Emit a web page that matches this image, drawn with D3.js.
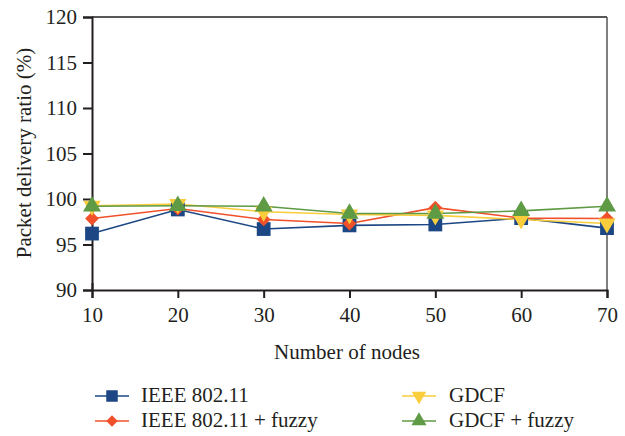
<!DOCTYPE html>
<html>
<head>
<meta charset="utf-8">
<script src="https://cdn.jsdelivr.net/npm/d3@7"></script>
<style>
  body { margin: 0; background: #fff; }
  text { font-family: "Liberation Serif", "DejaVu Serif", serif; fill: #231f20; }
</style>
</head>
<body>
<script>
// data
var nodes = [10, 20, 30, 40, 50, 60, 70];
var ieee = [96.2, 98.85, 96.7, 97.1, 97.2, 97.9, 96.8];
var ieeeFuzzy = [97.85, 98.95, 97.75, 97.3, 99.05, 97.9, 97.85];
var gdcf = [99.25, 99.45, 98.6, 98.3, 98.2, 97.75, 97.3];
var gdcfFuzzy = [99.2, 99.25, 99.2, 98.4, 98.4, 98.7, 99.2];
var yTicks = [90, 95, 100, 105, 110, 115, 120];

var series = [
  {name: "IEEE 802.11", values: ieee, color: "#1c4784", shape: d3.symbolSquare, size: 190, rot: 0},
  {name: "IEEE 802.11 + fuzzy", values: ieeeFuzzy, color: "#f0502a", shape: d3.symbolSquare, size: 95, rot: 45},
  {name: "GDCF", values: gdcf, color: "#f9cd3b", shape: d3.symbolTriangle, size: 130, rot: 180},
  {name: "GDCF + fuzzy", values: gdcfFuzzy, color: "#5f9a45", shape: d3.symbolTriangle, size: 140, rot: 0}
];

var svg = d3.select("body").append("svg")
  .attr("width", 625)
  .attr("height", 436);

var x = d3.scaleLinear().domain([10, 70]).range([92, 607]);
var y = d3.scaleLinear().domain([90, 120]).range([290, 17]);

// frame top/right
svg.append("line").attr("x1", 92).attr("x2", 607).attr("y1", 17).attr("y2", 17)
  .attr("stroke", "#231f20").attr("stroke-width", 1.5);
svg.append("line").attr("x1", 607).attr("x2", 607).attr("y1", 17).attr("y2", 290)
  .attr("stroke", "#555").attr("stroke-width", 1.5);

var yAxis = svg.append("g")
  .attr("transform", "translate(92,0)")
  .call(d3.axisLeft(y).tickValues(yTicks).tickSize(9).tickPadding(6));
yAxis.selectAll(".tick line").attr("stroke-width", 2);

var xAxis = svg.append("g")
  .attr("transform", "translate(0,290)")
  .call(d3.axisBottom(x).tickValues(nodes).tickSize(8).tickPadding(9));
xAxis.select(".tick line").attr("y1", -7);
xAxis.selectAll(".tick line").attr("stroke-width", 2);

[yAxis, xAxis].forEach(function(a) {
  a.select(".domain").attr("stroke", "#231f20").attr("stroke-width", 2);
  a.selectAll(".tick line").attr("stroke", "#231f20");
  a.selectAll("text").style("font-size", "21px").attr("fill", "#231f20");
});

svg.append("text")
  .attr("x", 347).attr("y", 359)
  .attr("text-anchor", "middle")
  .style("font-size", "21px")
  .text("Number of nodes");

svg.append("text")
  .attr("transform", "translate(31,153) rotate(-90)")
  .attr("text-anchor", "middle")
  .style("font-size", "21px")
  .text("Packet delivery ratio (%)");

var line = d3.line()
  .x(function(d, i) { return x(nodes[i]); })
  .y(function(d) { return y(d); });

series.forEach(function(s) {
  svg.append("path")
    .datum(s.values)
    .attr("fill", "none")
    .attr("stroke", s.color)
    .attr("stroke-width", 1.6)
    .attr("d", line);
});

series.forEach(function(s) {
  svg.selectAll(null)
    .data(s.values)
    .enter()
    .append("path")
    .attr("d", d3.symbol().type(s.shape).size(s.size))
    .attr("transform", function(d, i) {
      return "translate(" + x(nodes[i]) + "," + y(d) + ") rotate(" + s.rot + ")";
    })
    .attr("fill", s.color);
});

// legend
var legPos = [[95, 396], [95, 421], [402, 396], [402, 421]];
series.forEach(function(s, i) {
  var g = svg.append("g").attr("transform", "translate(" + legPos[i][0] + "," + legPos[i][1] + ")");
  g.append("line").attr("x1", 0).attr("x2", 34).attr("stroke", s.color).attr("stroke-width", 1.6);
  g.append("path")
    .attr("d", d3.symbol().type(s.shape).size(s.size * 0.7))
    .attr("transform", "translate(17,0) rotate(" + s.rot + ")")
    .attr("fill", s.color);
  g.append("text")
    .attr("x", i < 2 ? 46 : 47)
    .attr("y", 6)
    .style("font-size", "21px")
    .text(s.name);
});
</script>
</body>
</html>
